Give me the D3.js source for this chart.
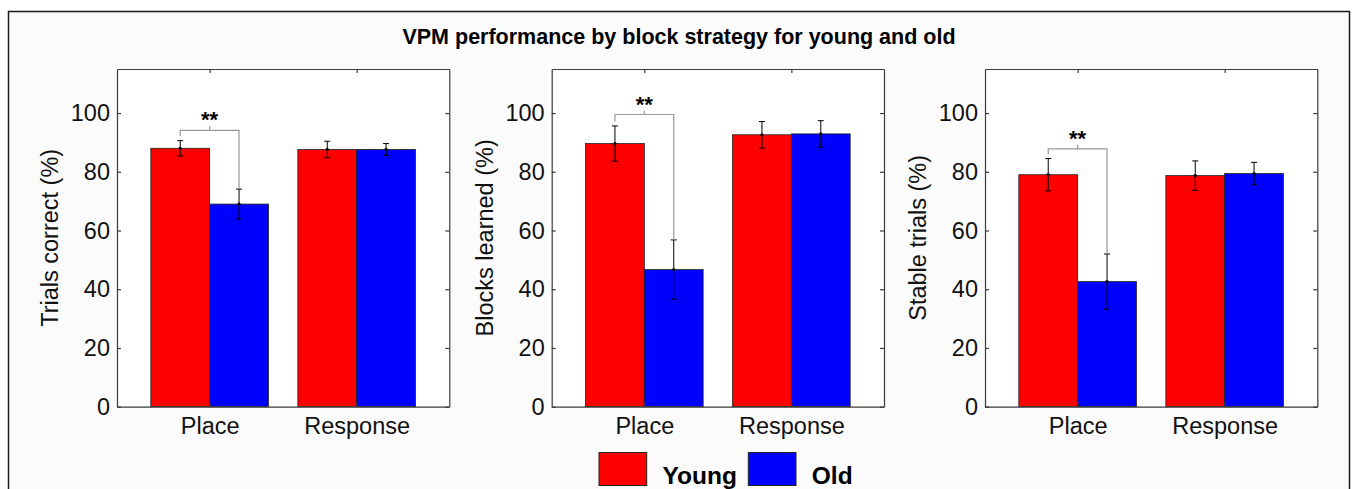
<!DOCTYPE html>
<html>
<head>
<meta charset="utf-8">
<script src="https://cdn.jsdelivr.net/npm/d3@7"></script>
<style>
  body { margin: 0; background: #fff; }
  svg { display: block; font-family: "Liberation Sans", Arial, Helvetica, sans-serif; }
</style>
</head>
<body>
<div id="chart"></div>
<script>
// values
var categories = ["Place", "Response"];
var seriesNames = ["Young", "Old"];
var panelLabels = ["Trials correct (%)", "Blocks learned (%)", "Stable trials (%)"];
var youngMeans = [[88.0, 87.6], [89.6, 92.6], [79.0, 78.7]];
var oldMeans = [[69.0, 87.6], [46.7, 92.9], [42.6, 79.4]];
var youngErr = [[2.6, 2.8], [6.0, 4.5], [5.5, 5.0]];
var oldErr = [[5.1, 2.0], [10.1, 4.5], [9.4, 3.8]];
var sigLevel = [94.1, 99.5, 87.8];   // height of the ** bracket, Place group
var sigText = "**";
var yTicks = [0, 20, 40, 60, 80, 100];
var title = "VPM performance by block strategy for young and old";

var w = 1355, h = 489;
var colors = ["#ff0000", "#0000ff"];
var axisColor = "#3a3a3a";

var svg = d3.select("#chart").append("svg")
    .attr("width", w)
    .attr("height", h);

//figure frame
svg.append("rect")
    .attr("x", 8.5).attr("y", 11.5)
    .attr("width", 1341).attr("height", 500)
    .attr("fill", "#fbfbfb")
    .attr("stroke", "#1a1a1a")
    .attr("stroke-width", 1.5);

svg.append("text")
    .attr("x", 679).attr("y", 44)
    .attr("text-anchor", "middle")
    .attr("font-size", 21.5)
    .attr("font-weight", "bold")
    .text(title);

var panelLeft = [117, 551.7, 985];
var pw = 332.3, axTop = 69, axBottom = 406.7;
var fs = 23.5;

var y = d3.scaleLinear().domain([0, 115]).range([axBottom, axTop]);

panelLeft.forEach(function(left, p) {
    var x = d3.scaleLinear().domain([0.37, 2.63]).range([left, left + pw]);
    var g = svg.append("g");

    g.append("rect")
        .attr("x", left).attr("y", axTop)
        .attr("width", pw).attr("height", axBottom - axTop)
        .attr("fill", "#fff");

    var means = [youngMeans[p], oldMeans[p]];
    var errs = [youngErr[p], oldErr[p]];

    //bars
    seriesNames.forEach(function(s, si) {
        var bars = categories.map(function(c, ci) {
            return { c: ci + 1 + (si === 0 ? -0.2 : 0.2), v: means[si][ci], e: errs[si][ci] };
        });
        g.selectAll(".bar" + si)
            .data(bars)
            .enter().append("rect")
            .attr("x", function(d) { return x(d.c - 0.2); })
            .attr("y", function(d) { return y(d.v); })
            .attr("width", function(d) { return x(d.c + 0.2) - x(d.c - 0.2); })
            .attr("height", function(d) { return y(0) - y(d.v); })
            .attr("fill", colors[si])
            .attr("stroke", "#222")
            .attr("stroke-width", 0.8);

        //error bars
        var eb = g.selectAll(".err" + si)
            .data(bars)
            .enter().append("g")
            .attr("stroke", "#000")
            .attr("stroke-width", 1);
        eb.append("line")
            .attr("x1", function(d) { return x(d.c); })
            .attr("x2", function(d) { return x(d.c); })
            .attr("y1", function(d) { return y(d.v - d.e); })
            .attr("y2", function(d) { return y(d.v + d.e); });
        eb.append("line")
            .attr("x1", function(d) { return x(d.c) - 3; })
            .attr("x2", function(d) { return x(d.c) + 3; })
            .attr("y1", function(d) { return y(d.v - d.e); })
            .attr("y2", function(d) { return y(d.v - d.e); });
        eb.append("line")
            .attr("x1", function(d) { return x(d.c) - 3; })
            .attr("x2", function(d) { return x(d.c) + 3; })
            .attr("y1", function(d) { return y(d.v + d.e); })
            .attr("y2", function(d) { return y(d.v + d.e); });
        eb.append("circle")
            .attr("cx", function(d) { return x(d.c); })
            .attr("cy", function(d) { return y(d.v); })
            .attr("r", 1.6)
            .attr("fill", "#000")
            .attr("stroke", "none");
    });

    //significance bracket over Place
    var yl = means[0][0] + errs[0][0] + 1.5;
    var ol = means[1][0] + errs[1][0];
    var lv = sigLevel[p];
    g.append("path")
        .attr("d", "M" + x(0.8) + "," + y(yl) + "V" + y(lv) + "H" + x(1.2) + "V" + y(ol) +
            "M" + x(1) + "," + y(lv) + "V" + (y(lv) - 4))
        .attr("fill", "none")
        .attr("stroke", "#999")
        .attr("stroke-width", 1.2);
    g.append("text")
        .attr("x", x(1)).attr("y", y(lv) - 3)
        .attr("text-anchor", "middle")
        .attr("font-size", 22)
        .attr("font-weight", "bold")
        .text(sigText);

    //axes, matlab style: ticks inside, mirrored
    var yAxisL = d3.axisLeft(y).tickValues(yTicks).tickSizeInner(-4).tickSizeOuter(0).tickPadding(7);
    var yAxisR = d3.axisRight(y).tickValues(yTicks).tickSizeInner(-4).tickSizeOuter(0).tickFormat("");
    var xAxisB = d3.axisBottom(x).tickValues([1, 2]).tickSizeInner(-4).tickSizeOuter(0)
        .tickPadding(11).tickFormat(function(d) { return categories[d - 1]; });
    var xAxisT = d3.axisTop(x).tickValues([1, 2]).tickSizeInner(-4).tickSizeOuter(0).tickFormat("");

    var axes = [
        g.append("g").attr("transform", "translate(" + left + ",0)").call(yAxisL),
        g.append("g").attr("transform", "translate(" + (left + pw) + ",0)").call(yAxisR),
        g.append("g").attr("transform", "translate(0," + axBottom + ")").call(xAxisB),
        g.append("g").attr("transform", "translate(0," + axTop + ")").call(xAxisT)
    ];
    axes.forEach(function(a) {
        a.selectAll("path, line").attr("stroke", axisColor).attr("stroke-width", 1.2);
        a.selectAll("text")
            .attr("fill", "#111")
            .attr("font-size", fs)
            .attr("font-family", "'Liberation Sans', Arial, sans-serif");
    });
    axes[2].selectAll("text").attr("dy", "0.71em");

    g.append("text")
        .attr("transform", "translate(" + (left - 67) + "," + ((axTop + axBottom) / 2) + ") rotate(-90)")
        .attr("text-anchor", "middle")
        .attr("dy", "0.35em")
        .attr("font-size", fs)
        .attr("fill", "#111")
        .text(panelLabels[p]);
});

//legend
var legX = [599, 748.3];
seriesNames.forEach(function(s, i) {
    svg.append("rect")
        .attr("x", legX[i]).attr("y", 452.5)
        .attr("width", 47.7).attr("height", 33)
        .attr("fill", colors[i])
        .attr("stroke", "#222")
        .attr("stroke-width", 1);
    svg.append("text")
        .attr("x", legX[i] + 63.5).attr("y", 484)
        .attr("font-size", 24.5)
        .attr("font-weight", "bold")
        .text(s);
});
</script>
</body>
</html>
